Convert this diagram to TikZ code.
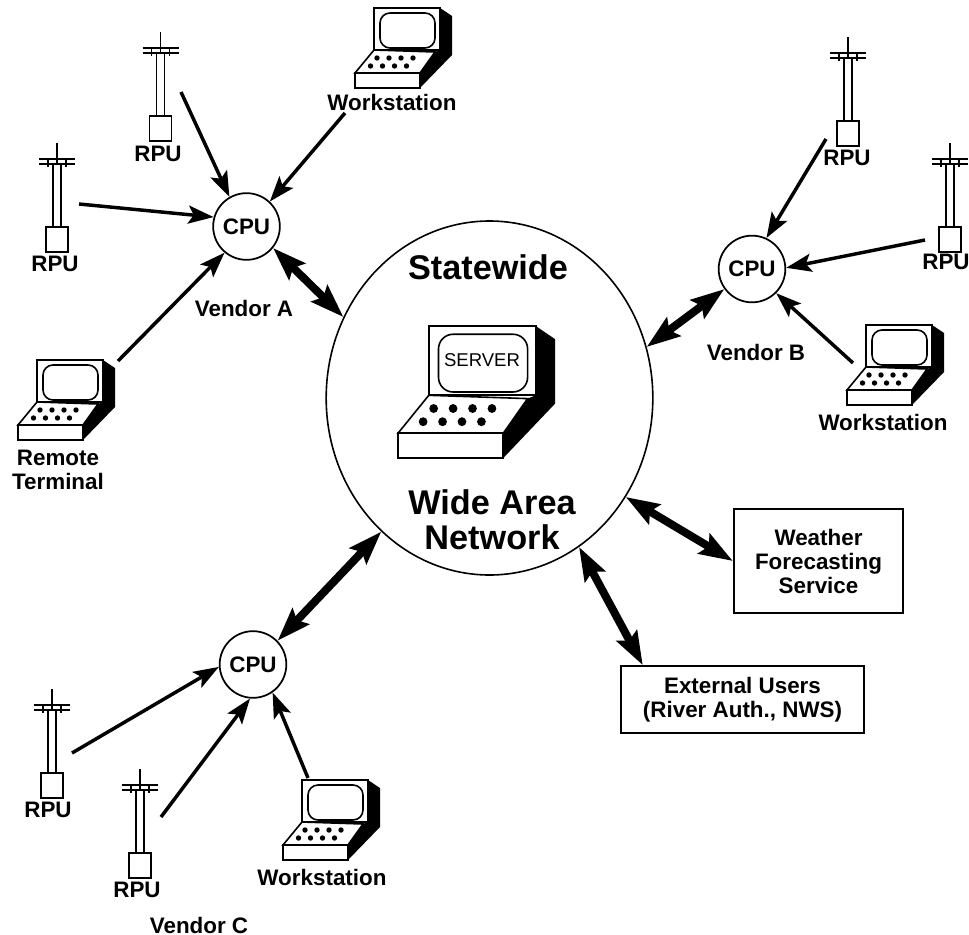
\documentclass[tikz,border=0pt]{standalone}
\usepackage{fontspec}
\setmainfont{Liberation Sans}
\usetikzlibrary{arrows.meta,shapes.geometric}
\tikzset{
    lbl/.style={font=\fontsize{16.8}{18}\selectfont\bfseries,align=center,inner sep=0pt},
    big/.style={font=\fontsize{25.7}{26.5}\selectfont\bfseries,align=center,inner sep=0pt},
    cpu/.style={draw,circle,line width=1.3pt,minimum size=50pt,inner sep=0pt,font=\fontsize{16.8}{18}\selectfont\bfseries},
    box/.style={draw,line width=1.5pt,align=center,inner sep=0pt,font=\fontsize{16.8}{18}\selectfont\bfseries},
    feed/.style={-{Stealth[length=19pt,width=13.5pt,inset=4pt]},line width=2.6pt},
    link/.style={{Stealth[length=25pt,width=17pt,inset=4pt]}-{Stealth[length=25pt,width=17pt,inset=4pt]},line width=6pt},
    pics/rpu/.style={code={
        \draw[line width=1.3pt] (-11,0) rectangle (11,25);
        \draw[line width=1.3pt] (-4,0) -- (-4,-63) (4,0) -- (4,-63);
        \draw[line width=1pt] (0,-63) -- (0,-84);
        \draw[line width=1.1pt] (-18,-68) -- (18,-68) (-18,-63) -- (18,-63);
        \draw[line width=1pt] (-9,-68) -- (-9,-60) (9,-68) -- (9,-60);
    }},
    pics/terminal/.default=7.5pt,
    pics/terminal/.style={code={
        \fill (85,0) -- (97,8) -- (97,47) -- (65,80) -- (65,65) -- (80,44) -- (85,42) -- cycle;
        \draw[line width=1.4pt,fill=white] (19,0) rectangle (85,42);
        \draw[line width=1.2pt,rounded corners=#1] (25,5) rectangle (80,40);
        \draw[line width=1.2pt,fill=white] (19,42) -- (80,44) -- (65,65) -- (0,65) -- cycle;
        \draw[line width=1.4pt,fill=white] (0,65) rectangle (65,80);
        \foreach \i in {0,1,2,3} {
            \fill (22+\i*12,50) circle (2.7);
            \fill (15.5+\i*12,58) circle (2.7);
        }
    }},
}
\begin{document}
\begin{tikzpicture}[x=0.75pt,y=-0.75pt]
\useasboundingbox (0,0) rectangle (969,934);
%network
\node[draw,ellipse,line width=1.2pt,minimum width=245pt,minimum height=265.5pt,inner sep=0pt] (wan) at (489.5,398) {};
\node[big] (state) at (488,267) {Statewide};
\node[big] (area) at (492,520) {Wide Area\\Network};
\pic[xscale=1.62,yscale=1.65] at (398,326) {terminal=11pt};
\node[font=\fontsize{13.9}{15}\selectfont,inner sep=0pt] (server) at (482,360) {SERVER};
%cpus
\node[cpu] (cpua) at (246.5,226.5) {CPU};
\node[cpu] (cpub) at (752,269) {CPU};
\node[cpu] (cpuc) at (253,664.5) {CPU};
\node[lbl] (venda) at (244,308) {Vendor A};
\node[lbl] (vendb) at (756,352) {Vendor B};
\node[lbl] (vendc) at (199,925) {Vendor C};
%rpus
\pic at (160.5,116) {rpu};
\node[lbl] (r1) at (158,154) {RPU};
\pic at (57,227) {rpu};
\node[lbl] (r2) at (55,264) {RPU};
\pic at (848,121) {rpu};
\node[lbl] (r3) at (847,158) {RPU};
\pic at (950,227) {rpu};
\node[lbl] (r4) at (946,262) {RPU};
\pic at (52,773) {rpu};
\node[lbl] (r5) at (48,810) {RPU};
\pic at (140,853) {rpu};
\node[lbl] (r6) at (137,890) {RPU};
%terminals
\pic at (355,8) {terminal};
\node[lbl] (w1) at (392,102) {Workstation};
\pic at (18,360) {terminal};
\node[lbl] (rt) at (58,470) {Remote\\Terminal};
\pic at (847,325) {terminal};
\node[lbl] (w2) at (883,422) {Workstation};
\pic at (283,780) {terminal};
\node[lbl] (w3) at (322,877) {Workstation};
%boxes
\node[box,minimum width=127pt,minimum height=78pt] (wx) at (818.5,561) {Weather\\Forecasting\\Service};
\node[box,minimum width=182pt,minimum height=50pt] (ext) at (742.5,699.5) {External Users\\(River Auth., NWS)};
%free ends
\coordinate (a1) at (181,92);
\coordinate (a2) at (345,113);
\coordinate (a3) at (79,204);
\coordinate (a4) at (118,361);
\coordinate (b1) at (826,139);
\coordinate (b2) at (925,240);
\coordinate (b3) at (853,363);
\coordinate (c1) at (72,753);
\coordinate (c2) at (161,817);
\coordinate (c3) at (308,778);
\draw[feed] (a1) -- (cpua.120);
\draw[feed] (a2) -- (cpua.47);
\draw[feed] (a3) -- (cpua.164);
\draw[feed] (a4) -- (cpua.230);
\draw[feed] (b1) -- (cpub.65);
\draw[feed] (b2) -- (cpub.2);
\draw[feed] (b3) -- (cpub.-45);
\draw[feed] (c1) -- (cpuc.184);
\draw[feed] (c2) -- (cpuc.265);
\draw[feed] (c3) -- (cpuc.-55);
\draw[link] (cpua.-39) -- (wan.151.7);
\draw[link] (cpub.216) -- (wan.18.8);
\draw[link] (cpuc.44) -- (wan.231.7);
\draw[link] (wx.west) -- (wan.-36.2);
\draw[link] (ext.161.4) -- (wan.-59.7);
\end{tikzpicture}
\end{document}
